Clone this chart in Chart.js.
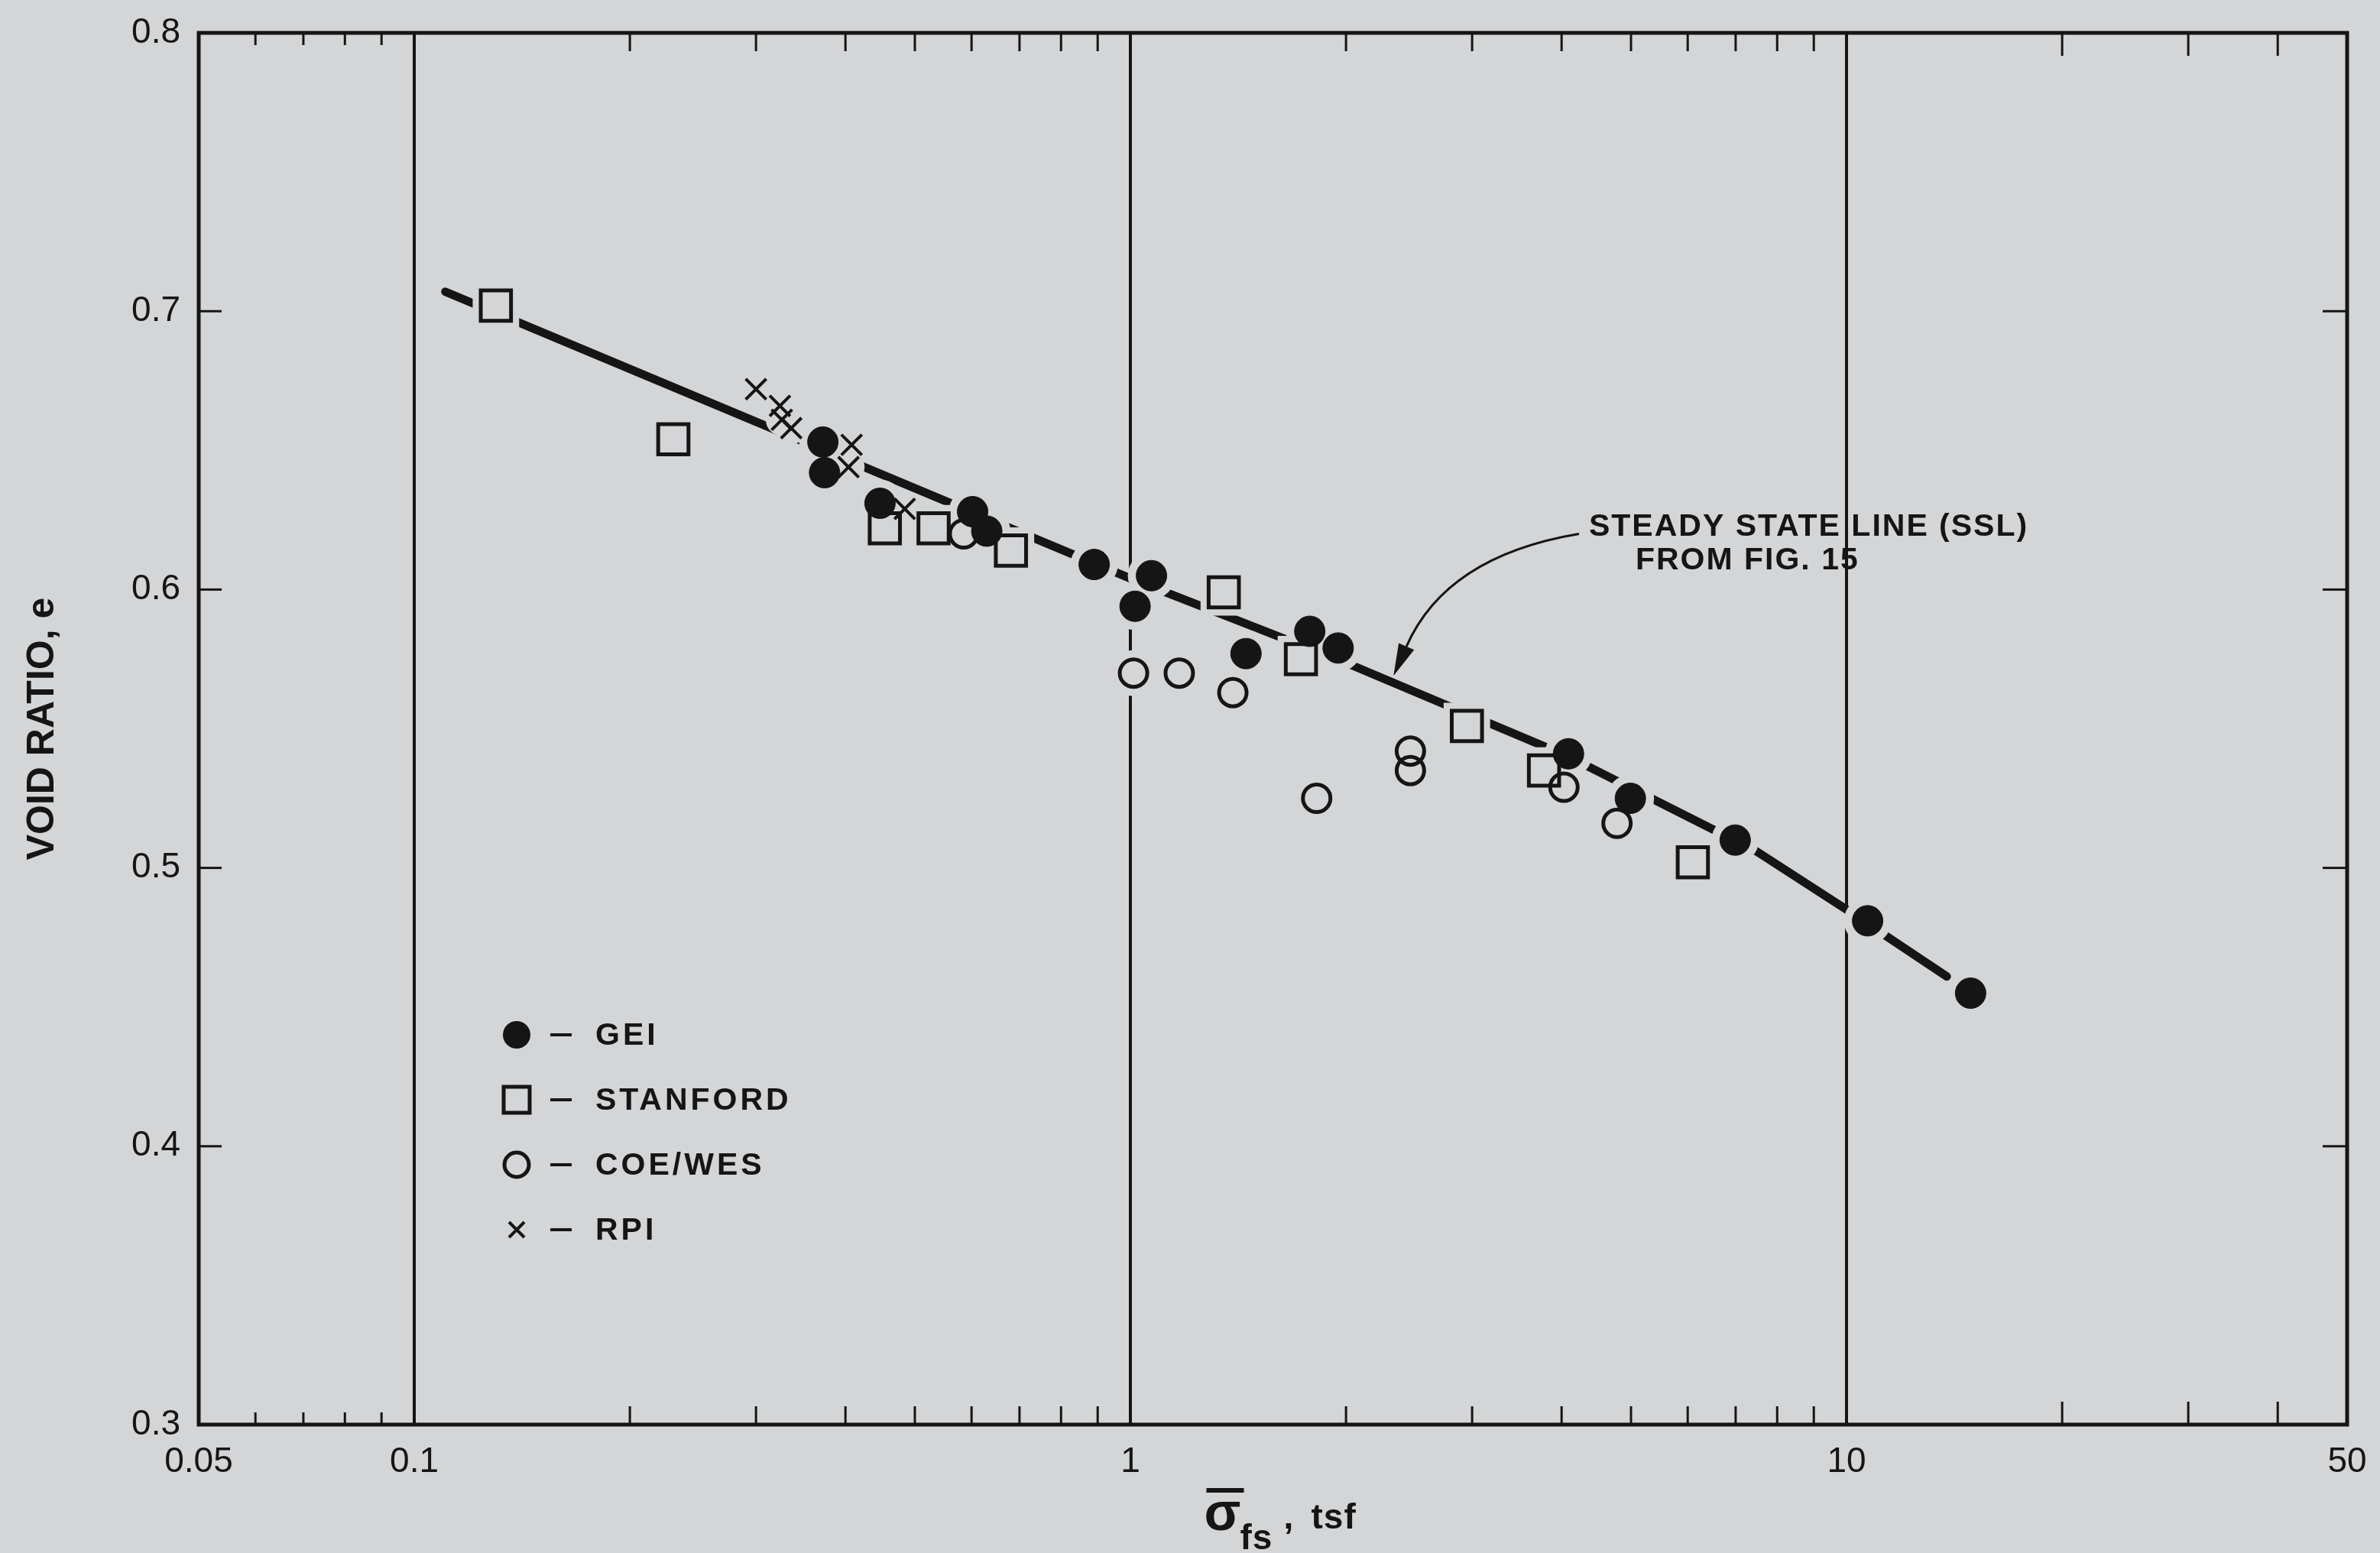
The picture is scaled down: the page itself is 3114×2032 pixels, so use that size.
<!DOCTYPE html>
<html>
<head>
<meta charset="utf-8">
<script src="https://cdn.jsdelivr.net/npm/chart.js@4.4.1/dist/chart.umd.min.js"></script>
<style>
  html, body { margin: 0; padding: 0; background: #d3d5d7; }
  canvas { display: block; }
</style>
</head>
<body>
<canvas id="voidChart" width="3114" height="2032"></canvas>
<script>
// series (x = effective stress, tsf ; y = void ratio)
const seriesNames = ['GEI', 'STANFORD', 'COE/WES', 'RPI'];

const geiX = [0.372, 0.374, 0.447, 0.602, 0.630, 0.890, 1.07, 1.015, 1.45, 1.78, 1.95, 4.09, 4.99, 6.99, 10.7, 14.9];
const geiY = [0.653, 0.642, 0.631, 0.628, 0.621, 0.609, 0.605, 0.594, 0.577, 0.585, 0.579, 0.541, 0.525, 0.510, 0.481, 0.455];

const stanfordX = [0.130, 0.230, 0.454, 0.531, 0.681, 1.35, 1.73, 2.95, 3.78, 6.10];
const stanfordY = [0.702, 0.654, 0.622, 0.622, 0.614, 0.599, 0.575, 0.551, 0.535, 0.502];

const coeX = [0.585, 1.01, 1.17, 1.39, 1.82, 2.46, 2.46, 4.03, 4.78];
const coeY = [0.620, 0.570, 0.570, 0.563, 0.525, 0.542, 0.535, 0.529, 0.516];

const rpiX = [0.300, 0.324, 0.326, 0.336, 0.408, 0.404, 0.484];
const rpiY = [0.672, 0.666, 0.661, 0.658, 0.652, 0.644, 0.629];

// steady state line (SSL) from fig. 15
const sslX = [0.1105, 1.0, 2.03, 4.09, 7.48, 10.0, 13.8];
const sslY = [0.707, 0.604, 0.573, 0.540, 0.506, 0.485, 0.461];

// axes
const xTickValues = [0.05, 0.1, 1, 10, 50];
const xTickLabels = ['0.05', '0.1', '1', '10', '50'];
const decadeLines = [0.1, 1, 10];
const minorTickValues = [0.06, 0.07, 0.08, 0.09, 0.2, 0.3, 0.4, 0.5, 0.6, 0.7, 0.8, 0.9, 2, 3, 4, 5, 6, 7, 8, 9, 20, 30, 40];
const yTickValues = [0.3, 0.4, 0.5, 0.6, 0.7, 0.8];
const yTickLabels = ['0.3', '0.4', '0.5', '0.6', '0.7', '0.8'];

// annotation anchors (data space)
const arrowStart = { x: 4.23, y: 0.620 };
const arrowBend = { x: 2.76, y: 0.612 };
const arrowTip = { x: 2.33, y: 0.569 };

const paper = '#d3d5d7';
const ink = '#151515';
const fontFace = '"Liberation Sans", Arial, sans-serif';

function points(xs, ys) {
  return xs.map((v, i) => ({ x: v, y: ys[i] }));
}

// paper-coloured disc behind each marker, so the line and grid break around it
function halo(xs, ys, style, radius) {
  return {
    type: 'scatter',
    data: points(xs, ys),
    pointStyle: style,
    pointRadius: radius,
    pointBackgroundColor: paper,
    pointBorderColor: paper,
    pointBorderWidth: 0,
    order: 5
  };
}

function drawMark(c, kind, px, py) {
  c.save();
  c.strokeStyle = ink;
  c.fillStyle = ink;
  c.beginPath();
  if (kind === 'dot') {
    c.arc(px, py, 18, 0, Math.PI * 2);
    c.fill();
  } else if (kind === 'square') {
    c.lineWidth = 5;
    c.rect(px - 17, py - 17, 34, 34);
    c.stroke();
  } else if (kind === 'ring') {
    c.lineWidth = 5;
    c.arc(px, py, 16, 0, Math.PI * 2);
    c.stroke();
  } else {
    c.lineWidth = 4;
    c.moveTo(px - 10, py - 10); c.lineTo(px + 10, py + 10);
    c.moveTo(px + 10, py - 10); c.lineTo(px - 10, py + 10);
    c.stroke();
  }
  c.restore();
}

const decorations = {
  id: 'decorations',
  beforeDraw(chart) {
    const c = chart.ctx;
    c.save();
    c.fillStyle = paper;
    c.fillRect(0, 0, chart.width, chart.height);
    c.restore();
  },
  afterDraw(chart) {
    const { ctx: c, chartArea: a, scales: { x, y } } = chart;
    const seg = (x1, y1, x2, y2) => { c.beginPath(); c.moveTo(x1, y1); c.lineTo(x2, y2); c.stroke(); };
    c.save();
    c.strokeStyle = ink;
    c.fillStyle = ink;

    // inward minor ticks, top and bottom
    c.lineWidth = 3;
    minorTickValues.forEach(v => {
      const px = x.getPixelForValue(v);
      const len = v < 0.1 ? 16 : (v > 10 ? 30 : 24);
      seg(px, a.bottom, px, a.bottom - len);
      seg(px, a.top, px, a.top + len);
    });
    // inward ticks left and right
    yTickValues.forEach(v => {
      const py = y.getPixelForValue(v);
      seg(a.left, py, a.left + 30, py);
      seg(a.right, py, a.right - 32, py);
    });
    // frame
    c.lineWidth = 5;
    c.strokeRect(a.left, a.top, a.right - a.left, a.bottom - a.top);

    // legend inside the plot
    const kinds = ['dot', 'square', 'ring', 'cross'];
    const lx = a.left + 416;
    c.font = `bold 41px ${fontFace}`;
    c.letterSpacing = '4px';
    c.textBaseline = 'middle';
    c.textAlign = 'left';
    seriesNames.forEach((name, i) => {
      const ly = a.top + 1311 + i * 85;
      drawMark(c, kinds[i], lx, ly);
      c.lineWidth = 4;
      seg(lx + 44, ly, lx + 72, ly);
      c.fillText(name, lx + 103, ly + 2);
    });

    // SSL annotation with curved arrow
    const p0 = { x: x.getPixelForValue(arrowStart.x), y: y.getPixelForValue(arrowStart.y) };
    const pc = { x: x.getPixelForValue(arrowBend.x), y: y.getPixelForValue(arrowBend.y) };
    const p2 = { x: x.getPixelForValue(arrowTip.x), y: y.getPixelForValue(arrowTip.y) };
    const ang = Math.atan2(p2.y - pc.y, p2.x - pc.x);
    const headLen = 42, headW = 11;
    const bx = p2.x - headLen * Math.cos(ang), by = p2.y - headLen * Math.sin(ang);
    c.lineWidth = 3;
    c.beginPath();
    c.moveTo(p0.x, p0.y);
    c.quadraticCurveTo(pc.x, pc.y, bx, by);
    c.stroke();
    c.beginPath();
    c.moveTo(p2.x, p2.y);
    c.lineTo(bx + headW * Math.sin(ang), by - headW * Math.cos(ang));
    c.lineTo(bx - headW * Math.sin(ang), by + headW * Math.cos(ang));
    c.closePath();
    c.fill();

    c.font = `bold 41px ${fontFace}`;
    c.letterSpacing = '2px';
    c.textBaseline = 'alphabetic';
    c.fillText('STEADY STATE LINE (SSL)', p0.x + 13, p0.y + 2);
    c.fillText('FROM FIG. 15', p0.x + 74, p0.y + 46);

    // x axis title: sigma-bar sub fs, tsf
    c.letterSpacing = '1px';
    const tx = (a.left + a.right) / 2 - 90;
    const base = 2000;
    c.font = `bold 70px ${fontFace}`;
    c.fillText('σ', tx, base + 2);
    c.lineWidth = 6;
    seg(tx + 3, base - 50, tx + 52, base - 50);
    c.font = `bold 46px ${fontFace}`;
    c.fillText('fs', tx + 47, base + 27);
    c.fillText(',', tx + 104, base);
    c.fillText('tsf', tx + 140, base);
    c.restore();
  }
};

const sslDataset = {
  type: 'line',
  data: points(sslX, sslY),
  borderColor: ink,
  borderWidth: 11,
  borderCapStyle: 'round',
  pointRadius: 0,
  fill: false,
  tension: 0,
  order: 10
};

const markerDatasets = [
  {
    label: seriesNames[0],
    data: points(geiX, geiY),
    pointStyle: 'circle',
    pointRadius: 20,
    pointBackgroundColor: ink,
    pointBorderColor: ink,
    pointBorderWidth: 1,
    order: 1
  },
  {
    label: seriesNames[1],
    data: points(stanfordX, stanfordY),
    pointStyle: 'rect',
    pointRadius: 28,
    pointBackgroundColor: 'rgba(0,0,0,0)',
    pointBorderColor: ink,
    pointBorderWidth: 5,
    order: 1
  },
  {
    label: seriesNames[2],
    data: points(coeX, coeY),
    pointStyle: 'circle',
    pointRadius: 18,
    pointBackgroundColor: 'rgba(0,0,0,0)',
    pointBorderColor: ink,
    pointBorderWidth: 5,
    order: 1
  },
  {
    label: seriesNames[3],
    data: points(rpiX, rpiY),
    pointStyle: 'crossRot',
    pointRadius: 19,
    pointBorderColor: ink,
    pointBorderWidth: 4,
    order: 1
  }
];

const haloDatasets = [
  halo(geiX, geiY, 'circle', 31),
  halo(stanfordX, stanfordY, 'rect', 43),
  halo(coeX, coeY, 'circle', 30),
  halo(rpiX, rpiY, 'circle', 21)
];

new Chart(document.getElementById('voidChart'), {
  type: 'scatter',
  data: { datasets: [sslDataset, ...haloDatasets, ...markerDatasets] },
  options: {
    responsive: false,
    animation: false,
    devicePixelRatio: 1,
    events: [],
    layout: { padding: { top: 26, right: 42, left: 0, bottom: 0 } },
    plugins: { legend: { display: false }, tooltip: { enabled: false } },
    scales: {
      x: {
        type: 'logarithmic',
        min: 0.05,
        max: 50,
        position: 'bottom',
        afterBuildTicks: s => { s.ticks = xTickValues.map(v => ({ value: v })); },
        afterFit: s => {
          s.height = 168;
          s.paddingLeft = 0; s.paddingRight = 0;
        },
        grid: {
          color: ctx => (ctx.tick && decadeLines.includes(ctx.tick.value)) ? ink : 'rgba(0,0,0,0)',
          lineWidth: 4,
          drawTicks: false
        },
        border: { display: false },
        ticks: {
          autoSkip: false,
          maxRotation: 0,
          padding: 22,
          color: ink,
          font: { family: fontFace, size: 46 },
          callback: (v, i) => xTickLabels[i]
        }
      },
      y: {
        min: 0.3,
        max: 0.8,
        afterBuildTicks: s => { s.ticks = yTickValues.map(v => ({ value: v })); },
        afterFit: s => {
          s.width = 260;
          s.paddingTop = 0; s.paddingBottom = 0;
        },
        grid: { display: false },
        border: { display: false },
        ticks: {
          padding: 16,
          color: ink,
          font: { family: fontFace, size: 46 },
          callback: (v, i) => yTickLabels[i]
        },
        title: {
          display: true,
          text: 'VOID RATIO, e',
          color: ink,
          font: { family: fontFace, size: 50, weight: 'bold' },
          padding: { top: 26, bottom: 0 }
        }
      }
    }
  },
  plugins: [decorations]
});
</script>
</body>
</html>
